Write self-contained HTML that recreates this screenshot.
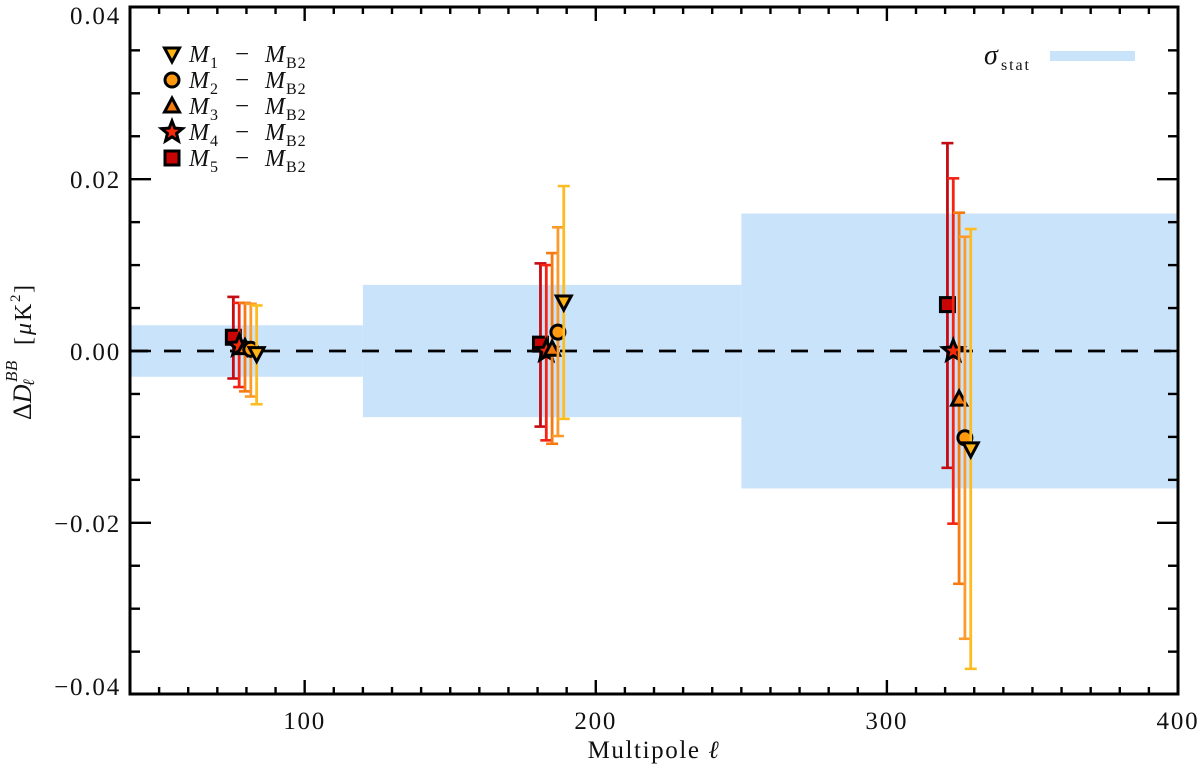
<!DOCTYPE html>
<html>
<head>
<meta charset="utf-8">
<style>
html,body{margin:0;padding:0;background:#fff;width:1200px;height:770px;overflow:hidden}
svg{display:block}
text{font-family:"Liberation Serif",serif;fill:#111}
.tick-label{font-size:25px;letter-spacing:1.8px}
.m{font-style:italic;font-size:24px}
.sub{font-size:16px;letter-spacing:1px}
.dash{font-size:25px}
</style>
</head>
<body>
<svg id="chart" xmlns="http://www.w3.org/2000/svg" width="1200" height="770" viewBox="0 0 1200 770">
  <g id="bands"></g>
  <g id="zero"></g>
  <g id="series"></g>
  <g id="axes"></g>

  <g>
    <g id="legend-markers"></g>
    <g><text class="m" x="189" y="62">M</text><text class="sub" x="210" y="68">1</text><text class="dash" x="235" y="62">−</text><text class="m" x="265" y="62">M</text><text class="sub" x="286" y="68">B2</text></g>
    <g><text class="m" x="189" y="88">M</text><text class="sub" x="210" y="94">2</text><text class="dash" x="235" y="88">−</text><text class="m" x="265" y="88">M</text><text class="sub" x="286" y="94">B2</text></g>
    <g><text class="m" x="189" y="114">M</text><text class="sub" x="210" y="120">3</text><text class="dash" x="235" y="114">−</text><text class="m" x="265" y="114">M</text><text class="sub" x="286" y="120">B2</text></g>
    <g><text class="m" x="189" y="140">M</text><text class="sub" x="210" y="146">4</text><text class="dash" x="235" y="140">−</text><text class="m" x="265" y="140">M</text><text class="sub" x="286" y="146">B2</text></g>
    <g><text class="m" x="189" y="166">M</text><text class="sub" x="210" y="172">5</text><text class="dash" x="235" y="166">−</text><text class="m" x="265" y="166">M</text><text class="sub" x="286" y="172">B2</text></g>
  </g>

  <g>
    <text class="m" x="984" y="64" style="font-size:28px">σ</text>
    <text class="sub" x="1001" y="70" style="letter-spacing:1.9px">stat</text>
    <rect x="1050" y="51" width="85" height="10" fill="#c9e3fb"></rect>
  </g>

  <text x="654" y="758" text-anchor="middle" font-size="25" letter-spacing="1.6">Multipole <tspan font-style="italic">ℓ</tspan></text>

  <g transform="translate(31,420) rotate(-90)">
    <text x="0" y="0" font-size="26">Δ<tspan font-style="italic">D</tspan></text>
    <text x="38" y="-14" font-size="17" font-style="italic" letter-spacing="0.5">BB</text>
    <text x="34" y="3" font-size="16" font-style="italic">ℓ</text>
    <text x="75" y="0" font-size="24" letter-spacing="2">[<tspan font-style="italic">μ</tspan>K</text>
    <text x="118" y="-11" font-size="15">2</text>
    <text x="127" y="0" font-size="24">]</text>
  </g>
</svg>
<script>
// ---- chart data ----
const multipoleBins = [79.5, 185, 324.8];
const binOffsets = { M5: -4, M4: -2, M3: 0, M2: 2, M1: 4 };
const bandEdges = [40, 120, 250, 400];
const bandSigma = [0.003, 0.0077, 0.016];
const M1_values = [-0.0003, 0.0057, -0.0114];
const M1_upper = [0.0053, 0.0192, 0.0142];
const M1_lower = [-0.0062, -0.0079, -0.037];
const M2_values = [0.0002, 0.0022, -0.0101];
const M2_upper = [0.0055, 0.0144, 0.0133];
const M2_lower = [-0.0053, -0.0099, -0.0335];
const M3_values = [0.0004, 0.0002, -0.0056];
const M3_upper = [0.0056, 0.0114, 0.0161];
const M3_lower = [-0.0047, -0.0108, -0.0271];
const M4_values = [0.0006, 0, 0];
const M4_upper = [0.0056, 0.01, 0.0201];
const M4_lower = [-0.0042, -0.0104, -0.0201];
const M5_values = [0.0016, 0.0008, 0.0054];
const M5_upper = [0.0063, 0.0102, 0.0242];
const M5_lower = [-0.0032, -0.0088, -0.0136];
const xMajorTicks = [100, 200, 300, 400];
const yMajorTicks = [-0.04, -0.02, 0, 0.02, 0.04];
const xTickLabels = ['100', '200', '300', '400'];
const yTickLabels = ['−0.04', '−0.02', '0.00', '0.02', '0.04'];

// ---- axis functions ----
const L = 130, R = 1178, T = 7, B = 694;
const X_MIN = 40, X_MAX = 400, Y_MIN = -0.04, Y_MAX = 0.04;
const xScale = function (v) { return L + (v - X_MIN) * (R - L) / (X_MAX - X_MIN); };
const yScale = function (v) { return 351 - v * 8590; };

const NS = 'http://www.w3.org/2000/svg';
function make(tag, attrs, parent) {
  const el = document.createElementNS(NS, tag);
  for (const k in attrs) el.setAttribute(k, attrs[k]);
  parent.appendChild(el);
  return el;
}
function drawLine(x1, y1, x2, y2, color, width, parent) {
  return make('line', { x1: x1, y1: y1, x2: x2, y2: y2, stroke: color, 'stroke-width': width }, parent);
}
function markerShape(kind, cx, cy, fill, parent) {
  const style = { fill: fill, stroke: '#000', 'stroke-width': 3, 'stroke-linejoin': 'miter' };
  let el;
  if (kind === 'down') {
    el = make('polygon', Object.assign({ points: (cx - 7.5) + ',' + (cy - 6) + ' ' + (cx + 7.5) + ',' + (cy - 6) + ' ' + cx + ',' + (cy + 8) }, style), parent);
  } else if (kind === 'up') {
    el = make('polygon', Object.assign({ points: (cx - 7.5) + ',' + (cy + 6) + ' ' + (cx + 7.5) + ',' + (cy + 6) + ' ' + cx + ',' + (cy - 8) }, style), parent);
  } else if (kind === 'circle') {
    el = make('circle', Object.assign({ cx: cx, cy: cy, r: 7 }, style), parent);
  } else if (kind === 'square') {
    el = make('rect', Object.assign({ x: cx - 7, y: cy - 7, width: 14, height: 14 }, style), parent);
  } else {
    const pts = [];
    for (let i = 0; i < 10; i++) {
      const r = i % 2 ? 4.8 : 11;
      const a = -Math.PI / 2 + i * Math.PI / 5;
      pts.push((cx + r * Math.cos(a)).toFixed(2) + ',' + (cy + r * Math.sin(a)).toFixed(2));
    }
    el = make('polygon', Object.assign({ points: pts.join(' ') }, style), parent);
  }
  return el;
}

// ---- bands ----
const bandsG = document.getElementById('bands');
bandSigma.forEach(function (s, i) {
  const r = make('rect', { x: xScale(bandEdges[i]), y: yScale(s), width: xScale(bandEdges[i + 1]) - xScale(bandEdges[i]), height: yScale(-s) - yScale(s), fill: '#c9e3fb' }, bandsG);
  
  
});

// ---- zero line ----
const zeroLine = make('line', { x1: L + 1, x2: R, y1: yScale(0), y2: yScale(0), stroke: '#000', 'stroke-width': 2.8, 'stroke-dasharray': '17 16' }, document.getElementById('zero'));



// ---- series (drawn M5 first so M1 ends on top) ----
const seriesList = [
  { id: 'M5', kind: 'square', fill: '#c80404', bar: '#c40c12', v: M5_values, up: M5_upper, lo: M5_lower },
  { id: 'M4', kind: 'star', fill: '#f52a0a', bar: '#f42314', v: M4_values, up: M4_upper, lo: M4_lower },
  { id: 'M3', kind: 'up', fill: '#f57a10', bar: '#f57a12', v: M3_values, up: M3_upper, lo: M3_lower },
  { id: 'M2', kind: 'circle', fill: '#ff9a10', bar: '#fb9b2e', v: M2_values, up: M2_upper, lo: M2_lower },
  { id: 'M1', kind: 'down', fill: '#ffb414', bar: '#fdbd22', v: M1_values, up: M1_upper, lo: M1_lower }
];
const seriesG = document.getElementById('series');
const CAP = 6;
seriesList.forEach(function (s) {
  const g = make('g', {}, seriesG);
  
  
  multipoleBins.forEach(function (bin, i) {
    const px = xScale(bin + binOffsets[s.id]);
    const yt = yScale(s.up[i]), yb = yScale(s.lo[i]);
    const stem = drawLine(px, yt, px, yb, s.bar, 2.8, g);
    
    
    drawLine(px - CAP, yt, px + CAP, yt, s.bar, 2.6, g);
    drawLine(px - CAP, yb, px + CAP, yb, s.bar, 2.6, g);
    const mk = markerShape(s.kind, px, yScale(s.v[i]), s.fill, g);
    
    
  });
});

// ---- legend markers ----
const legendG = document.getElementById('legend-markers');
const legendOrder = ['down', 'circle', 'up', 'star', 'square'];
const legendFills = ['#ffb414', '#ff9a10', '#f57a10', '#f52a0a', '#c80404'];
legendOrder.forEach(function (k, i) {
  const mk = markerShape(k, 172, 54 + i * 26, legendFills[i], legendG);
  
  
});

// ---- axes ----
const axesG = document.getElementById('axes');
for (let v = 50; v < 400; v += 10) {
  const major = v % 100 === 0;
  const len = major ? 14 : 7;
  drawLine(xScale(v), B, xScale(v), B - len, '#000', 2.4, axesG);
  drawLine(xScale(v), T, xScale(v), T + len, '#000', 2.4, axesG);
}
for (let n = -7; n <= 7; n++) {
  const v = n * 0.005;
  const len = n % 4 === 0 ? 21 : 10;
  drawLine(L, yScale(v), L + len, yScale(v), '#000', 2.4, axesG);
  drawLine(R, yScale(v), R - len, yScale(v), '#000', 2.4, axesG);
}
const frame = make('rect', { x: L, y: T, width: R - L, height: B - T, fill: 'none', stroke: '#000', 'stroke-width': 3 }, axesG);



xMajorTicks.forEach(function (v, i) {
  const t = make('text', { x: xScale(v), y: 729, 'text-anchor': 'middle', 'class': 'tick-label' }, axesG);
  t.textContent = xTickLabels[i];
  
  
});
yMajorTicks.forEach(function (v, i) {
  const base = v === Y_MAX ? 24 : (v === Y_MIN ? 695 : yScale(v) + 9);
  const t = make('text', { x: 121, y: base, 'text-anchor': 'end', 'class': 'tick-label' }, axesG);
  t.textContent = yTickLabels[i];
  
  
});
</script>
</body>
</html>
